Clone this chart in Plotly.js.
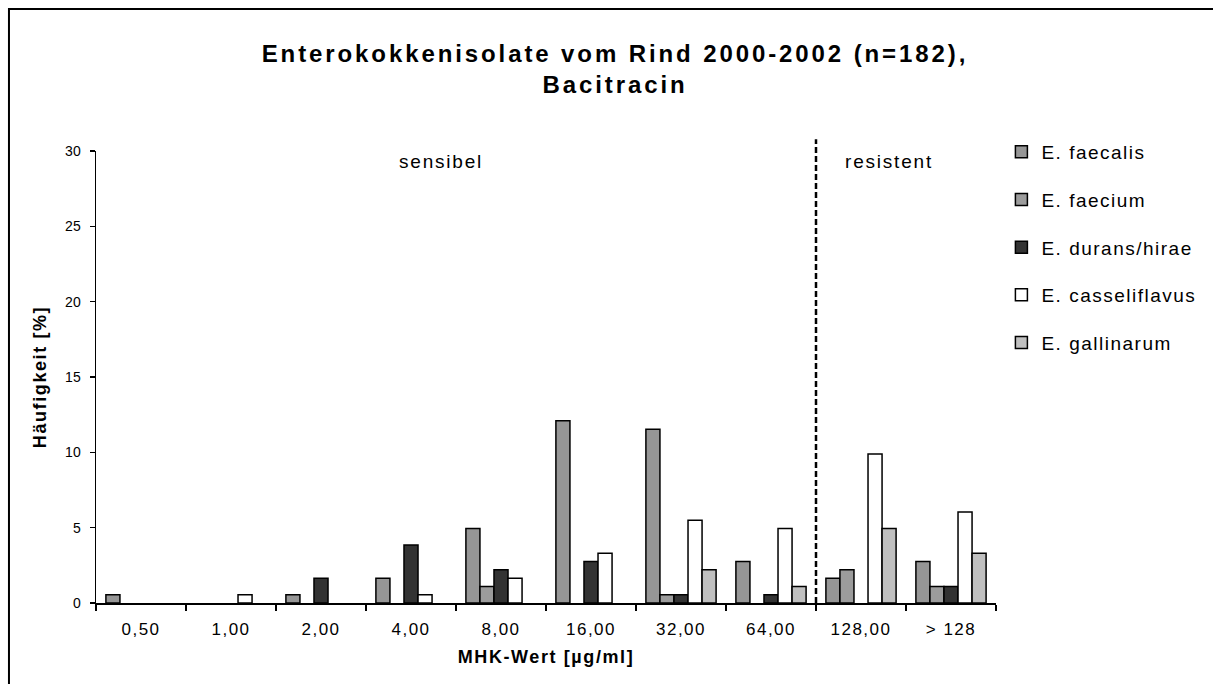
<!DOCTYPE html>
<html>
<head>
<meta charset="utf-8">
<script src="https://cdn.plot.ly/plotly-3.0.1.min.js"></script>
<style>
html,body{margin:0;padding:0;background:#fff;}
#chart{width:1213px;height:684px;}
.gtitle{letter-spacing:2.9px;}
.annotation-text{letter-spacing:1.8px;}
.legendtext{letter-spacing:1.5px;}
.xtick text{letter-spacing:1.5px;}
.xtitle{letter-spacing:1.6px;}
.ytitle{letter-spacing:1.6px;}
</style>
</head>
<body>
<div id="chart"></div>
<script>
const categories = ["0,50","1,00","2,00","4,00","8,00","16,00","32,00","64,00","128,00","> 128"];
const faecalis      = [0.55, 0,    0.55, 1.65, 4.95, 12.09, 11.54, 2.75, 1.65, 2.75];
const faecium       = [0,    0,    0,    0,    1.10, 0,     0.55,  0,    2.20, 1.10];
const duransHirae   = [0,    0,    1.65, 3.85, 2.20, 2.75,  0.55,  0.55, 0,    1.10];
const casseliflavus = [0,    0.55, 0,    0.55, 1.65, 3.30,  5.49,  4.95, 9.89, 6.04];
const gallinarum    = [0,    0,    0,    0,    0,    0,     2.20,  1.10, 4.95, 3.30];
const seriesNames = ["E. faecalis","E. faecium","E. durans/hirae","E. casseliflavus","E. gallinarum"];
const seriesColors = ["#969696","#9c9c9c","#333333","#ffffff","#c0c0c0"];
const seriesValues = [faecalis, faecium, duransHirae, casseliflavus, gallinarum];

const FONT = "Liberation Sans, Arial, sans-serif";
const traces = seriesValues.map((v, i) => ({
  type: "bar",
  name: seriesNames[i],
  x: categories,
  y: v.map(d => (d === 0 ? null : d)),
  legendgroup: "g" + i,
  marker: {color: seriesColors[i], line: {color: "#000", width: 1.5}},
  hoverinfo: "x+y+name"
}));

const layout = {
  width: 1213, height: 684,
  paper_bgcolor: "#fff", plot_bgcolor: "#fff",
  margin: {l: 96, r: 217, t: 151, b: 81, pad: 0},
  barmode: "group", bargap: 0.22, bargroupgap: 0,
  font: {family: FONT, color: "#000"},
  title: {
    text: "<b>Enterokokkenisolate vom Rind 2000-2002 (n=182),<br>Bacitracin</b>",
    font: {family: FONT, size: 24, color: "#000"},
    x: 0.507, xref: "container", xanchor: "center",
    y: 0.91, yref: "container", yanchor: "top"
  },
  xaxis: {
    type: "category",
    showline: true, linecolor: "#000", linewidth: 1.5,
    ticks: "outside", tickson: "boundaries", ticklen: 6, tickwidth: 1.5, tickcolor: "#000",
    ticklabelstandoff: 10,
    showgrid: false, zeroline: false,
    tickfont: {family: FONT, size: 17, color: "#000"},
    title: {text: "<b>MHK-Wert [µg/ml]</b>", font: {family: FONT, size: 18, color: "#000"}, standoff: 12}
  },
  yaxis: {
    range: [0, 30], dtick: 5,
    showline: true, linecolor: "#000", linewidth: 1.5,
    ticks: "outside", ticklen: 5, tickwidth: 1.5, tickcolor: "#000",
    ticklabelstandoff: 6,
    showgrid: false, zeroline: false,
    tickfont: {family: FONT, size: 14, color: "#000"},
    title: {text: "<b>Häufigkeit [%]</b>", font: {family: FONT, size: 18, color: "#000"}, standoff: 14}
  },
  legend: {
    x: 1.006, xanchor: "left", y: 1.04, yanchor: "top",
    font: {family: FONT, size: 19, color: "#000"},
    traceorder: "grouped", tracegroupgap: 20,
    bgcolor: "rgba(0,0,0,0)", itemwidth: 30
  },
  shapes: [
    {type: "line", xref: "x", yref: "paper", x0: 7.5, x1: 7.5, y0: 0, y1: 1.026,
     line: {color: "#000", width: 2.5, dash: "6px,3px"}},
    {type: "rect", xref: "paper", yref: "paper", x0: -0.0967, x1: 1.26, y0: -0.2, y1: 1.314,
     line: {color: "#000", width: 2}, fillcolor: "rgba(0,0,0,0)"}
  ],
  annotations: [
    {text: "sensibel", x: 3.33, y: 29.3, xref: "x", yref: "y", showarrow: false,
     font: {family: FONT, size: 19, color: "#000"}},
    {text: "resistent", x: 8.31, y: 29.3, xref: "x", yref: "y", showarrow: false,
     font: {family: FONT, size: 19, color: "#000"}}
  ]
};

Plotly.newPlot("chart", traces, layout, {displayModeBar: false, staticPlot: true});
</script>
</body>
</html>
